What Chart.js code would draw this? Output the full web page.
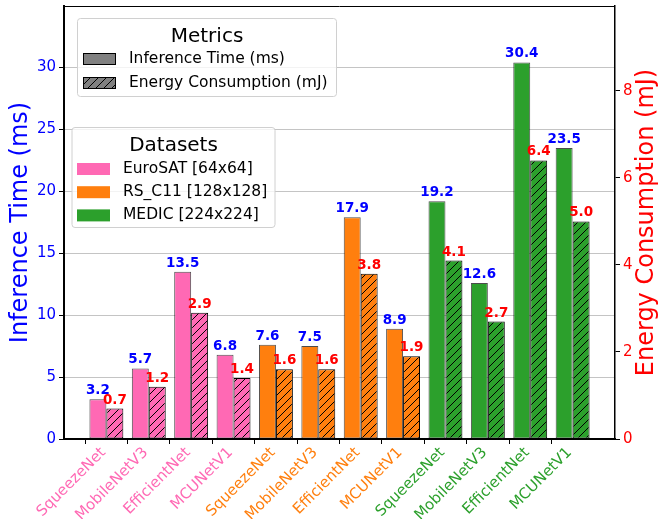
<!DOCTYPE html>
<html>
<head>
<meta charset="utf-8">
<script src="https://cdn.jsdelivr.net/npm/chart.js@4.4.1/dist/chart.umd.min.js"></script>
<style>
  html, body { margin: 0; padding: 0; background: #fff; }
  canvas { display: block; }
</style>
</head>
<body>
<canvas id="chart" width="659" height="519"></canvas>
<script>
// Models evaluated on each dataset
const models = ['SqueezeNet', 'MobileNetV3', 'EfficientNet', 'MCUNetV1'];
const datasetNames = ['EuroSAT [64x64]', 'RS_C11 [128x128]', 'MEDIC [224x224]'];
const datasetColors = ['#ff69b4', '#ff7f0e', '#2ca02c'];

// Inference time (ms)
const timeEuroSAT = [3.2, 5.7, 13.5, 6.8];
const timeRSC11   = [7.6, 7.5, 17.9, 8.9];
const timeMEDIC   = [19.2, 12.6, 30.4, 23.5];

// Energy consumption (mJ)
const energyEuroSAT = [0.7, 1.2, 2.9, 1.4];
const energyRSC11   = [1.6, 1.6, 3.8, 1.9];
const energyMEDIC   = [4.1, 2.7, 6.4, 5.0];

// Axis ticks
const timeTicks = [0, 5, 10, 15, 20, 25, 30];
const energyTicks = [0, 2, 4, 6, 8];
const timeMax = 34.96;
const energyMax = 9.95;

const metricNames = ['Inference Time (ms)', 'Energy Consumption (mJ)'];

// Flatten groups; an empty slot at each end gives the axis its side margins
const timeGroups = [timeEuroSAT, timeRSC11, timeMEDIC];
const energyGroups = [energyEuroSAT, energyRSC11, energyMEDIC];
const labels = [''];
const timeData = [null];
const energyData = [null];
const slotColor = [null];
timeGroups.forEach((g, d) => {
  models.forEach((m, i) => {
    labels.push(m);
    timeData.push(g[i]);
    energyData.push(energyGroups[d][i]);
    slotColor.push(datasetColors[d]);
  });
});
labels.push(''); timeData.push(null); energyData.push(null); slotColor.push(null);

const FONT = "'DejaVu Sans', 'Liberation Sans', sans-serif";
const canvas = document.getElementById('chart');
const ctx = canvas.getContext('2d');

// Diagonal '//' hatch fill
function hatch(color) {
  const s = 8;
  const c = document.createElement('canvas');
  c.width = s; c.height = s;
  const g = c.getContext('2d');
  g.fillStyle = color;
  g.fillRect(0, 0, s, s);
  g.strokeStyle = '#000';
  g.lineWidth = 1;
  g.beginPath();
  g.moveTo(-1, s + 1); g.lineTo(s + 1, -1);
  g.moveTo(-2, 2); g.lineTo(2, -2);
  g.moveTo(s - 2, s + 2); g.lineTo(s + 2, s - 2);
  g.stroke();
  return ctx.createPattern(c, 'repeat');
}
const hatchByColor = {};
datasetColors.forEach(c => { hatchByColor[c] = hatch(c); });
const grayHatch = hatch('#808080');

function roundBox(c, x, y, w, h, r) {
  c.beginPath();
  c.moveTo(x + r, y);
  c.arcTo(x + w, y, x + w, y + h, r);
  c.arcTo(x + w, y + h, x, y + h, r);
  c.arcTo(x, y + h, x, y, r);
  c.arcTo(x, y, x + w, y, r);
  c.closePath();
}

// Value labels above each bar
const valueLabels = {
  id: 'valueLabels',
  afterDatasetsDraw(chart) {
    const c = chart.ctx;
    c.save();
    c.font = `bold 13.5px ${FONT}`;
    c.textAlign = 'center';
    c.textBaseline = 'alphabetic';
    chart.data.datasets.forEach((ds, di) => {
      const meta = chart.getDatasetMeta(di);
      c.fillStyle = di === 0 ? '#0000ff' : '#ff0000';
      meta.data.forEach((el, i) => {
        const v = ds.data[i];
        if (v === null || v === undefined) return;
        c.fillText(v.toFixed(1), el.x, el.y - 5);
      });
    });
    c.restore();
  }
};

// Frame top line, axis titles and the two legends
const decorations = {
  id: 'decorations',
  afterDraw(chart) {
    const c = chart.ctx;
    const a = chart.chartArea;
    c.save();
    c.strokeStyle = '#000';
    c.lineWidth = 1;
    c.beginPath();
    c.moveTo(a.left, a.top + 0.5);
    c.lineTo(a.right, a.top + 0.5);
    c.stroke();

    const midY = (a.top + a.bottom) / 2;
    c.font = `24px ${FONT}`;
    c.textAlign = 'center';
    c.textBaseline = 'alphabetic';
    c.fillStyle = '#0000ff';
    c.save(); c.translate(27, midY); c.rotate(-Math.PI / 2); c.fillText(metricNames[0], 0, 0); c.restore();
    c.fillStyle = '#ff0000';
    c.save(); c.translate(653, midY); c.rotate(-Math.PI / 2); c.fillText(metricNames[1], 0, 0); c.restore();

    function box(x, y, w, h) {
      roundBox(c, x, y, w, h, 3);
      c.fillStyle = 'rgba(255,255,255,0.8)';
      c.fill();
      c.strokeStyle = '#d0d0d0';
      c.lineWidth = 1;
      c.stroke();
    }
    function title(text, x, y) {
      c.font = `20px ${FONT}`;
      c.fillStyle = '#000';
      c.textAlign = 'center';
      c.textBaseline = 'alphabetic';
      c.fillText(text, x, y);
    }
    function entry(fill, edge, text, x, y) {
      c.fillStyle = fill;
      c.fillRect(x, y, 33, 12);
      if (edge) {
        c.strokeStyle = edge;
        c.lineWidth = 1;
        c.strokeRect(x + 0.5, y + 0.5, 32, 11);
      }
      c.font = `15.5px ${FONT}`;
      c.fillStyle = '#000';
      c.textAlign = 'left';
      c.textBaseline = 'middle';
      c.fillText(text, x + 46, y + 6);
    }

    // Metrics legend
    box(77.5, 18.5, 259, 78);
    title('Metrics', 207, 42);
    entry('#808080', '#000', metricNames[0], 83, 53);
    entry(grayHatch, '#000', metricNames[1], 83, 77);

    // Datasets legend
    box(72, 127.5, 203, 100);
    title('Datasets', 173.5, 150.5);
    datasetNames.forEach((n, i) => entry(datasetColors[i], null, n, 77, 163 + i * 23.2));

    c.restore();
  }
};

new Chart(ctx, {
  type: 'bar',
  data: {
    labels: labels,
    datasets: [
      {
        label: metricNames[0],
        data: timeData,
        yAxisID: 'y',
        backgroundColor: slotColor,
        borderColor: 'rgba(0,0,0,0.7)',
        borderWidth: 1,
        borderSkipped: false,
        inflateAmount: 0,
        categoryPercentage: 0.8,
        barPercentage: 1.0
      },
      {
        label: metricNames[1],
        data: energyData,
        yAxisID: 'y1',
        backgroundColor: slotColor.map(c => c ? hatchByColor[c] : null),
        borderColor: '#000',
        borderWidth: 1,
        borderSkipped: false,
        inflateAmount: 0,
        categoryPercentage: 0.8,
        barPercentage: 1.0
      }
    ]
  },
  options: {
    responsive: false,
    animation: false,
    devicePixelRatio: 1,
    layout: { padding: { top: 6, left: 0, right: 0, bottom: 0 } },
    plugins: { legend: { display: false }, tooltip: { enabled: false } },
    scales: {
      x: {
        type: 'category',
        offset: false,
        grid: {
          drawOnChartArea: false,
          drawTicks: true,
          tickLength: 5,
          tickColor: c => (c.index === 0 || c.index === labels.length - 1) ? 'rgba(0,0,0,0)' : '#000'
        },
        border: { color: '#000', width: 2 },
        ticks: {
          autoSkip: false,
          minRotation: 45,
          maxRotation: 45,
          padding: 0,
          labelOffset: -3,
          color: c => slotColor[c.index] || '#000',
          font: { family: FONT, size: 15 }
        },
        afterFit(s) { s.height = 80; s.paddingLeft = 0; s.paddingRight = 0; }
      },
      y: {
        position: 'left',
        min: 0,
        max: timeMax,
        afterBuildTicks(s) { s.ticks = timeTicks.map(v => ({ value: v })); },
        ticks: { color: '#0000ff', padding: 3, font: { family: FONT, size: 15 } },
        grid: { color: '#c4c4c4', lineWidth: 1, drawTicks: true, tickLength: 5, tickColor: '#000' },
        border: { color: '#000', width: 2 },
        afterFit(s) { s.width = 64; s.paddingTop = 0; s.paddingBottom = 0; }
      },
      y1: {
        position: 'right',
        min: 0,
        max: energyMax,
        afterBuildTicks(s) { s.ticks = energyTicks.map(v => ({ value: v })); },
        ticks: { color: '#ff0000', padding: 3, font: { family: FONT, size: 15 } },
        grid: { drawOnChartArea: false, drawTicks: true, tickLength: 5, tickColor: '#000' },
        border: { color: '#000', width: 1.5 },
        afterFit(s) { s.width = 44; s.paddingTop = 0; s.paddingBottom = 0; }
      }
    }
  },
  plugins: [valueLabels, decorations]
});
</script>
</body>
</html>
